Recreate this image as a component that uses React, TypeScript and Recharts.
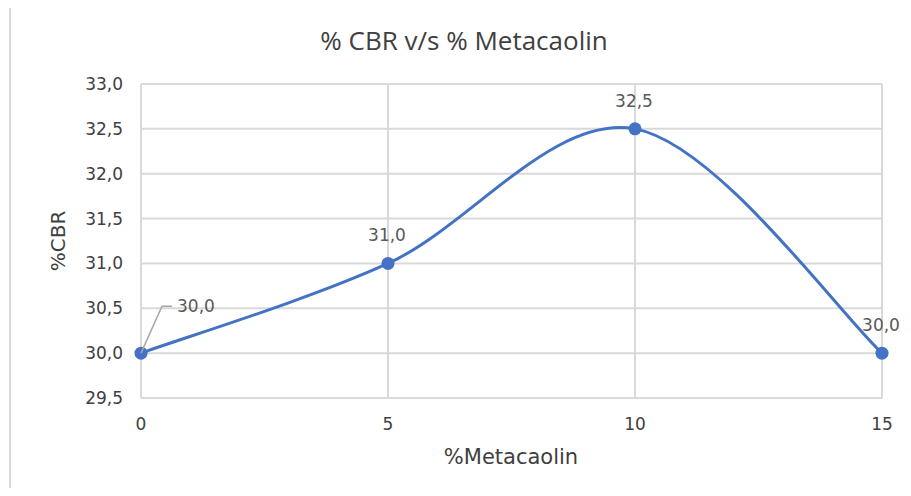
import { CartesianGrid, LabelList, Line, LineChart, XAxis, YAxis } from "recharts";

const metacaolin = [0, 5, 10, 15];
const cbr = [30.0, 31.0, 32.5, 30.0];
const xTicks = [0, 5, 10, 15];
const yTicks = [29.5, 30.0, 30.5, 31.0, 31.5, 32.0, 32.5, 33.0];

const data = metacaolin.map((m, i) => ({ metacaolin: m, cbr: cbr[i] }));

const BLUE = "#4472C4";
const GRID = "#d9d9d9";
const TICK_FONT = "'DejaVu Sans', sans-serif";

const comma = (v: number) => v.toFixed(1).replace(".", ",");

// Office-style smoothed line: cubic Bezier through each point with
// Catmull-Rom control points (1/6 of the neighbour span).
function smoothCurve(context: any) {
  let pts: [number, number][] = [];
  return {
    areaStart() {},
    areaEnd() {},
    lineStart() {
      pts = [];
    },
    point(x: number, y: number) {
      pts.push([+x, +y]);
    },
    lineEnd() {
      const n = pts.length;
      if (!n) return;
      context.moveTo(pts[0][0], pts[0][1]);
      for (let i = 0; i < n - 1; i++) {
        const p0 = pts[Math.max(i - 1, 0)];
        const p1 = pts[i];
        const p2 = pts[i + 1];
        const p3 = pts[Math.min(i + 2, n - 1)];
        context.bezierCurveTo(
          p1[0] + (p2[0] - p0[0]) / 6,
          p1[1] + (p2[1] - p0[1]) / 6,
          p2[0] - (p3[0] - p1[0]) / 6,
          p2[1] - (p3[1] - p1[1]) / 6,
          p2[0],
          p2[1]
        );
      }
    },
  };
}

function PointLabel(props: any) {
  const x = props.x ?? props.viewBox?.x;
  const y = props.y ?? props.viewBox?.y;
  const text = comma(Number(props.value));
  const style = { fontFamily: TICK_FONT, fontSize: 17, fill: "#595959" };
  if (props.index === 0) {
    // first label sits off to the right with a leader line
    return (
      <g>
        <polyline
          points={`${x},${y} ${x + 21},${y - 47} ${x + 31},${y - 47}`}
          fill="none"
          stroke="#a6a6a6"
          strokeWidth={1.5}
        />
        <text x={x + 36} y={y - 47} dominantBaseline="central" {...style}>
          {text}
        </text>
      </g>
    );
  }
  return (
    <text x={x - 1} y={y - 28} textAnchor="middle" dominantBaseline="central" {...style}>
      {text}
    </text>
  );
}

export default function App() {
  return (
    <div
      style={{
        position: "relative",
        width: 911,
        height: 496,
        margin: -8,
        background: "#fff",
        overflow: "hidden",
      }}
    >
      <div
        style={{
          position: "absolute",
          left: 9,
          top: 5,
          right: -10,
          bottom: -10,
          borderLeft: `2px solid ${GRID}`,
          borderTop: `2px solid ${GRID}`,
        }}
      />
      <div
        style={{
          position: "absolute",
          left: 9,
          width: 910,
          top: 22,
          textAlign: "center",
          fontFamily: "'Open Sans', sans-serif",
          fontSize: 26,
          color: "#404040",
        }}
      >
        % CBR v/s % Metacaolin
      </div>
      <LineChart
        width={911}
        height={496}
        data={data}
        margin={{ top: 84, right: 29, bottom: 68, left: 81 }}
        style={{ position: "absolute", left: 0, top: 0 }}
      >
        <CartesianGrid stroke={GRID} strokeWidth={2} />
        <XAxis
          dataKey="metacaolin"
          type="number"
          domain={[0, 15]}
          ticks={xTicks}
          height={30}
          axisLine={false}
          tickLine={false}
          tickMargin={14}
          tick={{ fill: "#404040", fontSize: 17, fontFamily: TICK_FONT }}
        />
        <YAxis
          type="number"
          domain={[29.5, 33]}
          ticks={yTicks}
          width={60}
          axisLine={false}
          tickLine={false}
          tickMargin={12}
          tickFormatter={comma}
          tick={{ fill: "#404040", fontSize: 17, fontFamily: TICK_FONT }}
        />
        <Line
          dataKey="cbr"
          type={smoothCurve as any}
          stroke={BLUE}
          strokeWidth={3}
          dot={{ r: 6.5, fill: BLUE, stroke: BLUE, strokeWidth: 0 }}
          activeDot={false}
          isAnimationActive={false}
        >
          <LabelList dataKey="cbr" content={PointLabel} />
        </Line>
      </LineChart>
      <svg
        width={911}
        height={496}
        style={{ position: "absolute", left: 0, top: 0, pointerEvents: "none" }}
      >
        <text
          x={58}
          y={241}
          transform="rotate(-90 58 241)"
          textAnchor="middle"
          dominantBaseline="central"
          fontFamily={TICK_FONT}
          fontSize={20}
          fill="#404040"
        >
          %CBR
        </text>
        <text
          x={511}
          y={457}
          textAnchor="middle"
          dominantBaseline="central"
          fontFamily={TICK_FONT}
          fontSize={21}
          fill="#404040"
        >
          %Metacaolin
        </text>
      </svg>
    </div>
  );
}
